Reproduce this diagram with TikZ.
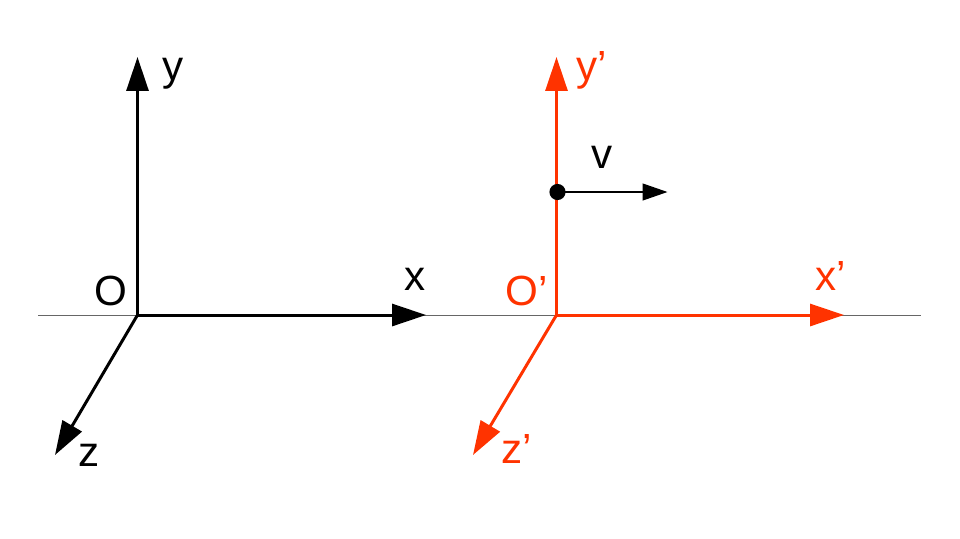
\documentclass[tikz,border=0pt]{standalone}
\usepackage{fontspec}
\setmainfont{Liberation Sans}
\usetikzlibrary{arrows.meta}
\definecolor{primered}{RGB}{255,51,0}
\tikzset{
  axis/.style={line width=1.7pt, -{Triangle[length=19.3pt,width=12.5pt]}},
  lbl/.style={anchor=base, inner sep=0pt, font=\fontsize{24}{28}\selectfont},
}
\begin{document}
\begin{tikzpicture}[x=0.02cm, y=-0.02cm]
            \useasboundingbox (0,0) rectangle (960,538);
            % common line through both origins
            \coordinate (L) at (38,315);
            \coordinate (R) at (921,315);
            \draw[gray!80!black, line width=0.57pt] (L) -- (R);
            % unprimed frame
            \coordinate (O) at (137.5,315);
            \coordinate (Y) at (137.5,57);
            \coordinate (X) at (426,315);
            \coordinate (Z) at (55,455);
            \draw[axis] (O) -- (Y);
            \draw[axis] (O) -- (X);
            \draw[axis] (O) -- (Z);
            \node[lbl] (ylbl) at (173.5,80) {y};
            \node[lbl] (olbl) at (110.5,305) {O};
            \node[lbl] (xlbl) at (415.5,290) {x};
            \node[lbl] (zlbl) at (89,466) {z};
            % primed frame, moving with v
            \coordinate (Op) at (556.5,315);
            \coordinate (Yp) at (556.5,57);
            \coordinate (Xp) at (844,315);
            \coordinate (Zp) at (473,455);
            \draw[axis, primered] (Op) -- (Yp);
            \draw[axis, primered] (Op) -- (Xp);
            \draw[axis, primered] (Op) -- (Zp);
            \node[lbl, primered] (yplbl) at (592,80) {y’};
            \node[lbl, primered] (oplbl) at (526.5,305) {O’};
            \node[lbl, primered] (xplbl) at (831,290) {x’};
            \node[lbl, primered] (zplbl) at (516.5,463) {z’};
            % velocity of O'
            \coordinate (P) at (557.5,192);
            \coordinate (V) at (667.5,192);
            \draw[line width=0.9pt, -{Triangle[length=14.2pt,width=9.6pt]}] (P) -- (V);
            \fill[black] (P) circle (4.6pt);
            \node[lbl] (vlbl) at (602,168) {v};
\end{tikzpicture}
\end{document}
